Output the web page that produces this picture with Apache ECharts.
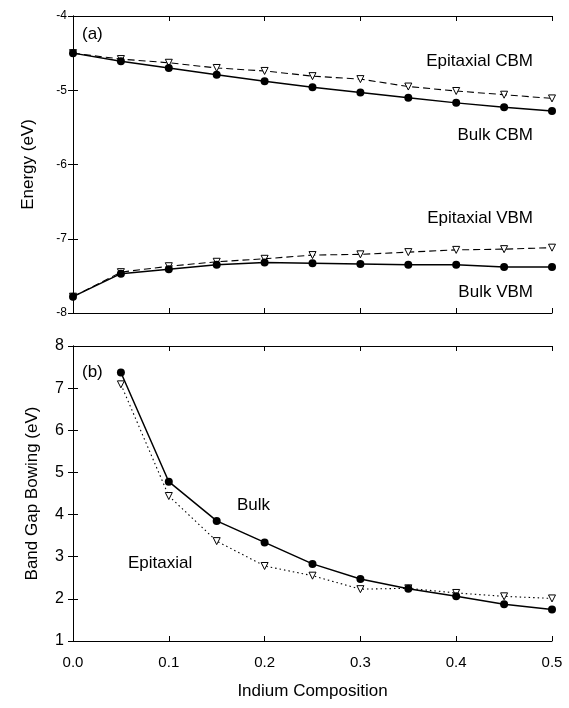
<!DOCTYPE html>
<html><head><meta charset="utf-8">
<script src="https://cdn.jsdelivr.net/npm/echarts@6/dist/echarts.min.js"></script>
<style>html,body{margin:0;padding:0;background:#fff}#c{width:569px;height:708px}</style>
</head><body><div id="c"></div>
<script>
const composition = [0, 0.05, 0.1, 0.15, 0.2, 0.25, 0.3, 0.35, 0.4, 0.45, 0.5];
const bulkCBM = [-4.5, -4.61, -4.70, -4.79, -4.88, -4.96, -5.03, -5.10, -5.17, -5.23, -5.28];
const epiCBM  = [-4.5, -4.58, -4.63, -4.70, -4.74, -4.81, -4.85, -4.95, -5.01, -5.06, -5.11];
const bulkVBM = [-7.78, -7.47, -7.41, -7.35, -7.32, -7.33, -7.34, -7.35, -7.35, -7.38, -7.38];
const epiVBM  = [-7.78, -7.45, -7.37, -7.31, -7.27, -7.22, -7.21, -7.18, -7.15, -7.14, -7.12];
const bowX = [0.05, 0.1, 0.15, 0.2, 0.25, 0.3, 0.35, 0.4, 0.45, 0.5];
const bulkBowing = [7.37, 4.78, 3.85, 3.34, 2.83, 2.47, 2.24, 2.06, 1.87, 1.75];
const epiBowing  = [7.09, 4.44, 3.37, 2.78, 2.55, 2.23, 2.25, 2.14, 2.06, 2.01];
const xTicks = ['0.0', '0.1', '0.2', '0.3', '0.4', '0.5'];

const FONT = 'Liberation Sans, Arial, Helvetica, sans-serif';
const pair = (xs, ys) => xs.map((x, i) => [x, ys[i]]);
const axisLine = {show: true, lineStyle: {color: '#000', width: 1}};
const tickIn = {show: true, inside: true, length: 5, lineStyle: {color: '#000'}};

function xAxis(grid, pos, labels) {
  return {type: 'value', gridIndex: grid, position: pos, min: 0, max: 0.5, interval: 0.1,
    axisLine, axisTick: tickIn, splitLine: {show: false},
    axisLabel: labels ? {show: true, color: '#000', fontSize: 15, fontFamily: FONT, margin: 14,
      formatter: v => xTicks[Math.round(v * 10)]} : {show: false},
    name: labels ? 'Indium Composition' : '', nameLocation: 'middle', nameGap: 42,
    nameTextStyle: {color: '#000', fontSize: 17, fontFamily: FONT}};
}
function yAxis(grid, pos, min, max, labels, fs, name, gap, margin) {
  return {type: 'value', gridIndex: grid, position: pos, min, max, interval: 1,
    axisLine, axisTick: tickIn, splitLine: {show: false},
    axisLabel: labels ? {show: true, color: '#000', fontSize: fs, fontFamily: FONT, margin: margin} : {show: false},
    name: name || '', nameLocation: 'middle', nameGap: gap || 0, nameRotate: 90,
    nameTextStyle: {color: '#000', fontSize: 17, fontFamily: FONT}};
}
function bulkSeries(xi, yi, data) {
  return {type: 'line', xAxisIndex: xi, yAxisIndex: yi, data, symbol: 'circle', symbolSize: 8,
    itemStyle: {color: '#000'}, lineStyle: {color: '#000', width: 1.5}, z: 3, animation: false};
}
function epiSeries(xi, yi, data, dash) {
  return {type: 'line', xAxisIndex: xi, yAxisIndex: yi, data, symbol: 'triangle', symbolRotate: 180,
    symbolSize: 7, itemStyle: {color: '#fff', borderColor: '#000', borderWidth: 1},
    lineStyle: {color: '#000', width: 1.1, type: dash}, z: 2, animation: false};
}
const txt = (x, y, t, align) => ({type: 'text', x, y, style: {text: t, fill: '#000', fontSize: 17,
  fontFamily: FONT, textAlign: align || 'left', textVerticalAlign: 'middle'}});

const chart = echarts.init(document.getElementById('c'));
chart.setOption({
  backgroundColor: '#fff',
  animation: false,
  grid: [
    {left: 73, top: 16, width: 479, height: 297},
    {left: 73, top: 346, width: 479, height: 295}
  ],
  xAxis: [xAxis(0, 'bottom', false), xAxis(0, 'top', false), xAxis(1, 'bottom', true), xAxis(1, 'top', false)],
  yAxis: [
    yAxis(0, 'left', -8, -4, true, 12, 'Energy (eV)', 36, 6),
    yAxis(0, 'right', -8, -4, false),
    yAxis(1, 'left', 1, 8, true, 16, 'Band Gap Bowing (eV)', 32, 9),
    yAxis(1, 'right', 1, 8, false)
  ],
  series: [
    epiSeries(0, 0, pair(composition, epiCBM), [7, 4]),
    bulkSeries(0, 0, pair(composition, bulkCBM)),
    epiSeries(0, 0, pair(composition, epiVBM), [7, 4]),
    bulkSeries(0, 0, pair(composition, bulkVBM)),
    epiSeries(2, 2, pair(bowX, epiBowing), [1.5, 3]),
    bulkSeries(2, 2, pair(bowX, bulkBowing))
  ],
  graphic: [
    txt(82, 34, '(a)'),
    txt(533, 61, 'Epitaxial CBM', 'right'),
    txt(533, 135, 'Bulk CBM', 'right'),
    txt(533, 218, 'Epitaxial VBM', 'right'),
    txt(533, 292, 'Bulk VBM', 'right'),
    txt(82, 372, '(b)'),
    txt(237, 505, 'Bulk'),
    txt(128, 563, 'Epitaxial')
  ]
});
</script></body></html>
